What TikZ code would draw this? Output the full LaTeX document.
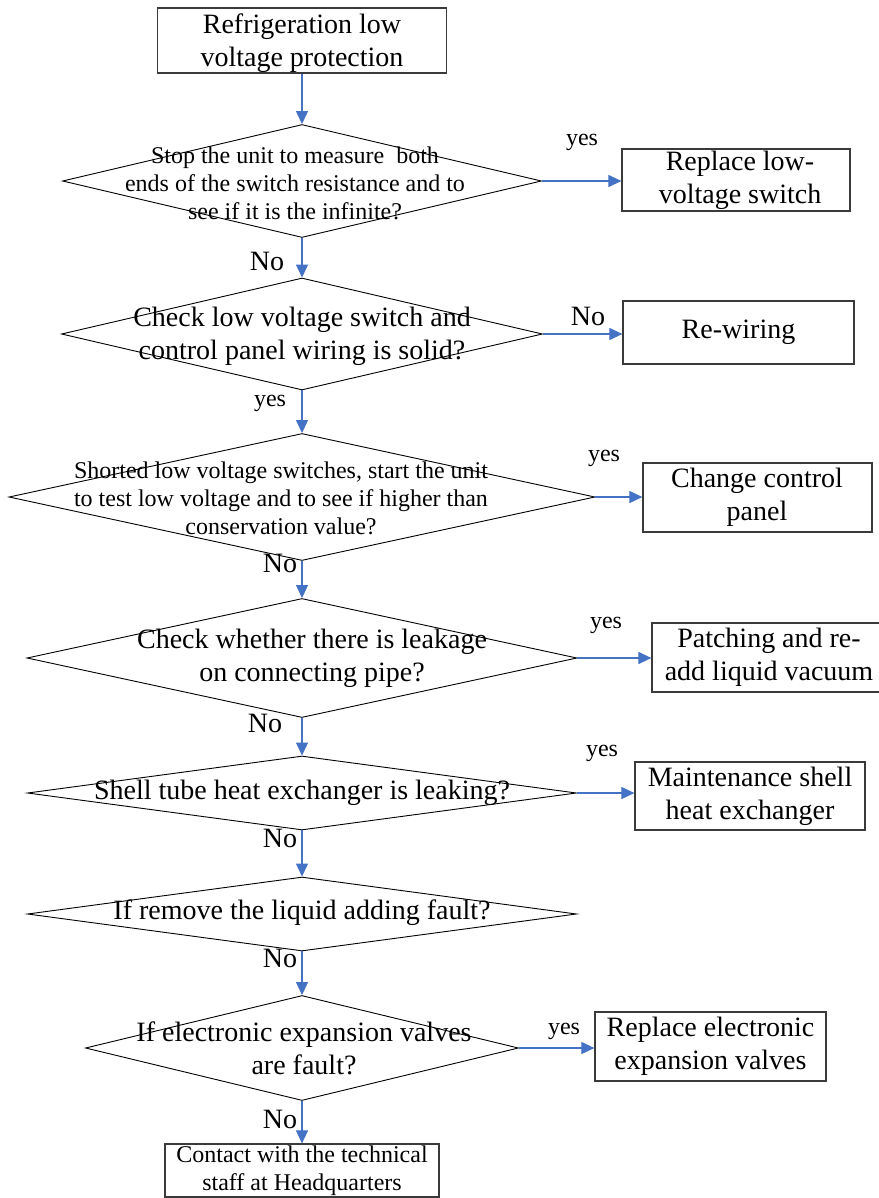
\documentclass[tikz,border=0pt]{standalone}
\usepackage{fontspec}
\setmainfont{Liberation Serif}
\usetikzlibrary{shapes.geometric,arrows.meta}
\definecolor{conn}{HTML}{4472C4}
\definecolor{edgec}{HTML}{3A3A3A}
\begin{document}
\begin{tikzpicture}[x=1pt,y=-1pt,
 box/.style={draw=edgec,line width=1.2pt,inner sep=0pt},
 dia/.style={diamond,draw=black,line width=0.9pt,inner sep=0pt},
 big/.style={font=\fontsize{28}{33}\selectfont,align=center,inner sep=0pt},
 small/.style={font=\fontsize{24}{28}\selectfont,align=center,inner sep=0pt},
 yeslbl/.style={font=\fontsize{24}{28}\selectfont,inner sep=0pt},
 nolbl/.style={font=\fontsize{28}{33}\selectfont,inner sep=0pt},
 arr/.style={draw=conn,line width=1.1pt,-{Triangle[length=13pt,width=12pt]}}]
\useasboundingbox (0,0) rectangle (878,1198);

% start box
\node[box,minimum width=289pt,minimum height=65pt] (b0) at (302,40.5) {};
\node[big] (b0t) at (302,43) {Refrigeration low\\voltage protection};

% diamonds
\node[dia,minimum width=479pt,minimum height=113pt] (d1) at (302,181) {};
\node[small] (d1t) at (295,183) {Stop the unit to measure\ \ both\\ends of the switch resistance and to\\see if it is the infinite?};

\node[dia,minimum width=481pt,minimum height=112pt] (d2) at (302,334) {};
\node[big] (d2t) at (302,336) {Check low voltage switch and\\control panel wiring is solid?};

\node[dia,minimum width=586pt,minimum height=127pt] (d3) at (302,497) {};
\node[small] (d3t) at (281,498) {Shorted low voltage switches, start the unit\\to test low voltage and to see if higher than\\conservation value?};

\node[dia,minimum width=550pt,minimum height=119pt] (d4) at (302,658) {};
\node[big] (d4t) at (312,658) {Check whether there is leakage\\on connecting pipe?};

\node[dia,minimum width=549pt,minimum height=74pt] (d5) at (302,793) {};
\node[big] (d5t) at (302,793) {Shell tube heat exchanger is leaking?};

\node[dia,minimum width=549pt,minimum height=74pt] (d6) at (302,914) {};
\node[big] (d6t) at (302,913) {If remove the liquid adding fault?};

\node[dia,minimum width=433pt,minimum height=105pt] (d7) at (302,1048) {};
\node[big] (d7t) at (304,1048) {If electronic expansion valves\\are fault?};

% end box
\node[box,minimum width=274pt,minimum height=53pt] (b7) at (302,1170.5) {};
\node[small] (b7t) at (302,1171) {Contact with the technical\\staff at Headquarters};

% right boxes
\node[box,minimum width=228pt,minimum height=62pt] (r1) at (736,180) {};
\node[big] (r1t) at (740,180) {Replace low-\\voltage switch};

\node[box,minimum width=231pt,minimum height=63pt] (r2) at (738.5,332.5) {};
\node[big] (r2t) at (738.5,332) {Re-wiring};

\node[box,minimum width=229pt,minimum height=69pt] (r3) at (757.5,497.5) {};
\node[big] (r3t) at (757,497.5) {Change control\\panel};

\node[box,minimum width=230pt,minimum height=69pt] (r4) at (767,657.5) {};
\node[big] (r4t) at (769,657.5) {Patching and re-\\add liquid vacuum};

\node[box,minimum width=230pt,minimum height=68pt] (r5) at (750,796) {};
\node[big] (r5t) at (750,796) {Maintenance shell\\heat exchanger};

\node[box,minimum width=231pt,minimum height=69pt] (r6) at (710.5,1046.5) {};
\node[big] (r6t) at (710.5,1046.5) {Replace electronic\\expansion valves};

% vertical connectors
\draw[arr] (b0.south) -- (d1.north);
\draw[arr] (d1.south) -- (d2.north);
\draw[arr] (d2.south) -- (d3.north);
\draw[arr] (d3.south) -- (d4.north);
\draw[arr] (d4.south) -- (d5.north);
\draw[arr] (d5.south) -- (d6.north);
\draw[arr] (d6.south) -- (d7.north);
\draw[arr] (d7.south) -- (b7.north);

% horizontal connectors
\draw[arr] (d1.east) -- (d1.east -| r1.west);
\draw[arr] (d2.east) -- (d2.east -| r2.west);
\draw[arr] (d3.east) -- (d3.east -| r3.west);
\draw[arr] (d4.east) -- (d4.east -| r4.west);
\draw[arr] (d5.east) -- (d5.east -| r5.west);
\draw[arr] (d7.east) -- (d7.east -| r6.west);

% labels
\node[yeslbl] (l1) at (582,142) {yes};
\node[nolbl] (l2) at (267,261) {No};
\node[nolbl] (l3) at (588,316) {No};
\node[yeslbl] (l4) at (270,403) {yes};
\node[yeslbl] (l5) at (604,458) {yes};
\node[nolbl] (l6) at (280,563) {No};
\node[yeslbl] (l7) at (606,625) {yes};
\node[nolbl] (l8) at (265,723) {No};
\node[yeslbl] (l9) at (602,753) {yes};
\node[nolbl] (l10) at (280,838) {No};
\node[nolbl] (l11) at (280,958) {No};
\node[yeslbl] (l12) at (564,1031) {yes};
\node[nolbl] (l13) at (280,1119) {No};
\end{tikzpicture}
\end{document}
